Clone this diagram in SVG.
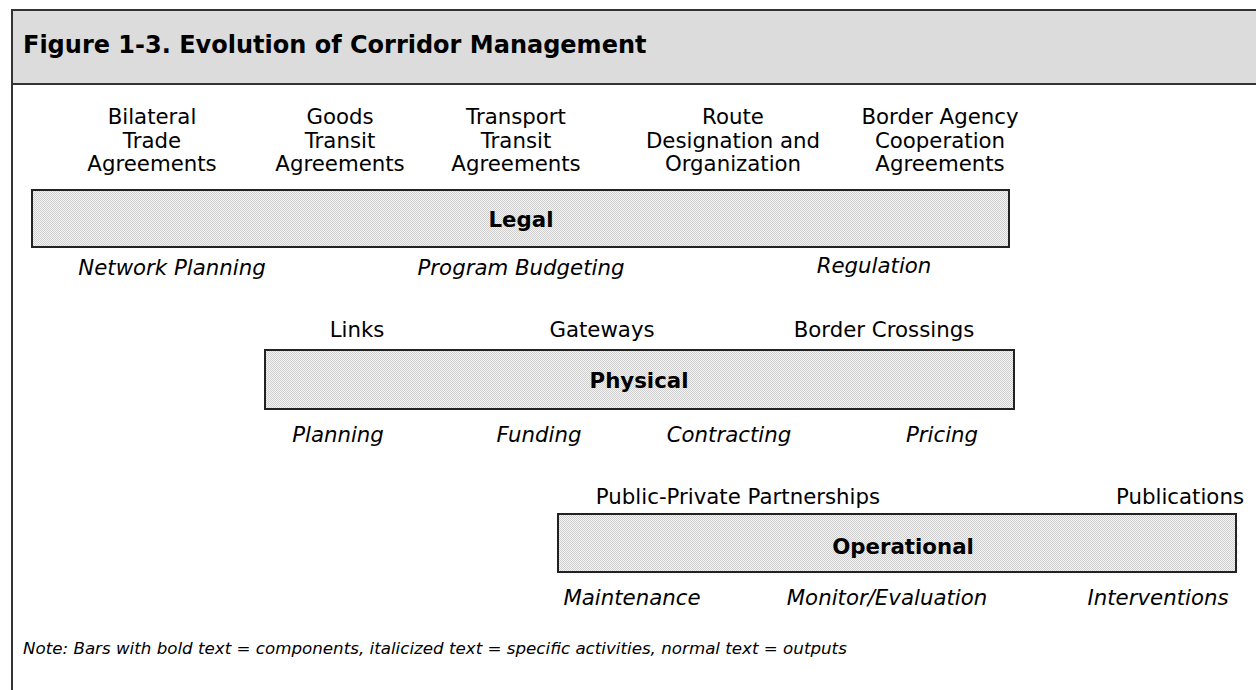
<svg xmlns="http://www.w3.org/2000/svg" width="1256" height="690" viewBox="0 0 1256 690">
  <defs>
    <pattern id="dots" width="2" height="2" patternUnits="userSpaceOnUse">
      <rect width="2" height="2" fill="#f4f4f4"/>
      <rect width="1" height="1" fill="#cfcfcf"/>
      <rect x="1" y="1" width="1" height="1" fill="#cfcfcf"/>
    </pattern>
  </defs>
  <style>
    text { font-family: "DejaVu Sans", Verdana, sans-serif; font-size: 21.3px; fill: #000; }
    .c { text-anchor: middle; }
    .b { font-weight: bold; }
    .i { font-style: italic; }
    .title { font-weight: bold; font-size: 24px; }
    .note { font-style: italic; font-size: 16.7px; }
    .bar { fill: url(#dots); stroke: #222; stroke-width: 2; }
    .frame { stroke: #333; stroke-width: 2; fill: none; }
  </style>
  <rect x="0" y="0" width="1256" height="690" fill="#fff"/>
  <g id="frame">
    <rect x="12" y="10" width="1260" height="74" fill="#dcdcdc"/>
    <path class="frame" d="M12 700 V10 H1260 M12 84 H1260"/>
    <text class="title" x="23" y="53">Figure 1-3. Evolution of Corridor Management</text>
  </g>
  <g id="connectors"/>
  <g id="legal">
    <rect class="bar" x="32" y="190" width="977" height="57"/>
    <text class="c b" x="521" y="227">Legal</text>
    <text class="c" x="152"><tspan x="152" y="124">Bilateral</tspan><tspan x="152" y="148">Trade</tspan><tspan x="152" y="171">Agreements</tspan></text>
    <text class="c" x="340"><tspan x="340" y="124">Goods</tspan><tspan x="340" y="148">Transit</tspan><tspan x="340" y="171">Agreements</tspan></text>
    <text class="c" x="516"><tspan x="516" y="124">Transport</tspan><tspan x="516" y="148">Transit</tspan><tspan x="516" y="171">Agreements</tspan></text>
    <text class="c" x="733"><tspan x="733" y="124">Route</tspan><tspan x="733" y="148">Designation and</tspan><tspan x="733" y="171">Organization</tspan></text>
    <text class="c" x="940"><tspan x="940" y="124">Border Agency</tspan><tspan x="940" y="148">Cooperation</tspan><tspan x="940" y="171">Agreements</tspan></text>
    <text class="c i" x="172" y="275">Network Planning</text>
    <text class="c i" x="521" y="275">Program Budgeting</text>
    <text class="c i" x="874" y="273">Regulation</text>
  </g>
  <g id="physical">
    <rect class="bar" x="265" y="350" width="749" height="59"/>
    <text class="c b" x="639" y="388">Physical</text>
    <text class="c" x="357" y="337">Links</text>
    <text class="c" x="602" y="337">Gateways</text>
    <text class="c" x="884" y="337">Border Crossings</text>
    <text class="c i" x="338" y="442">Planning</text>
    <text class="c i" x="539" y="442">Funding</text>
    <text class="c i" x="729" y="442">Contracting</text>
    <text class="c i" x="942" y="442">Pricing</text>
  </g>
  <g id="operational">
    <rect class="bar" x="558" y="514" width="678" height="58"/>
    <text class="c b" x="903" y="554">Operational</text>
    <text class="c" x="738" y="504">Public-Private Partnerships</text>
    <text class="c" x="1180" y="504">Publications</text>
    <text class="c i" x="632" y="605">Maintenance</text>
    <text class="c i" x="887" y="605">Monitor/Evaluation</text>
    <text class="c i" x="1158" y="605">Interventions</text>
  </g>
  <g id="note">
    <text class="note" x="23" y="654">Note: Bars with bold text = components, italicized text = specific activities, normal text = outputs</text>
  </g>
</svg>
